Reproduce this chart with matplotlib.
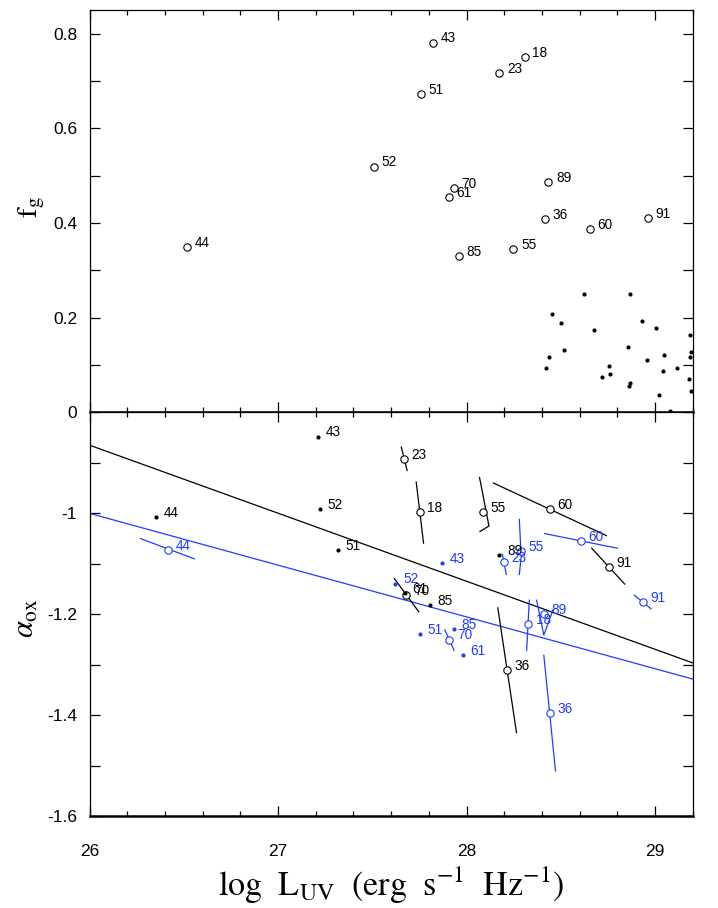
import matplotlib.pyplot as plt
from matplotlib.ticker import MultipleLocator

plt.rcParams['font.family'] = ['Liberation Sans', 'DejaVu Sans']
plt.rcParams['mathtext.fontset'] = 'stix'
plt.rcParams['axes.unicode_minus'] = False

BLUE = '#1f3cff'

# --- top panel: f_g vs log L_UV ---
top_ids = ['43', '18', '23', '51', '52', '70', '61', '89', '36', '60', '91', '44', '85', '55']
top_logl = [27.824, 28.309, 28.174, 27.757, 27.510, 27.931, 27.906, 28.434, 28.418,
            28.655, 28.963, 26.519, 27.958, 28.249]
top_fg = [0.781, 0.750, 0.717, 0.672, 0.519, 0.473, 0.455, 0.486, 0.408,
          0.387, 0.410, 0.349, 0.330, 0.345]

# comparison sample (small filled dots)
cmp_logl = [28.624, 28.867, 28.451, 28.500, 28.933, 28.675, 29.007, 29.183, 28.517,
            28.438, 28.854, 28.958, 29.049, 29.192, 29.186, 28.424, 28.754, 28.761,
            28.717, 29.042, 29.118, 29.180, 28.864, 28.869, 29.191, 29.021, 29.080]
cmp_fg = [0.249, 0.249, 0.207, 0.189, 0.193, 0.174, 0.178, 0.163, 0.131,
          0.117, 0.139, 0.110, 0.122, 0.127, 0.116, 0.093, 0.098, 0.081,
          0.075, 0.088, 0.093, 0.070, 0.055, 0.061, 0.046, 0.036, 0.002]

# --- bottom panel: alpha_ox vs log L_UV ---
blk_dot_ids = ['43', '52', '44', '51', '89', '61', '85']
blk_dot_x = [27.213, 27.223, 26.352, 27.316, 28.174, 27.671, 27.805]
blk_dot_y = [-0.848, -0.991, -1.008, -1.072, -1.083, -1.157, -1.182]

blk_circ_ids = ['23', '18', '55', '60', '91', '70', '36']
blk_circ_x = [27.669, 27.751, 28.088, 28.443, 28.756, 27.681, 28.216]
blk_circ_y = [-0.892, -0.998, -0.997, -0.992, -1.106, -1.162, -1.310]
blk_err = [
    [(27.654, -0.869), (27.685, -0.915)],
    [(27.733, -0.938), (27.772, -1.059)],
    [(28.069, -0.929), (28.119, -1.025), (28.071, -1.036)],
    [(28.143, -0.940), (28.742, -1.044)],
    [(28.664, -1.069), (28.839, -1.140)],
    [(27.617, -1.129), (27.747, -1.195)],
    [(28.166, -1.187), (28.265, -1.434)],
]

blu_dot_ids = ['43', '52', '51', '85', '61']
blu_dot_x = [27.871, 27.623, 27.751, 27.931, 27.980]
blu_dot_y = [-1.099, -1.139, -1.239, -1.229, -1.280]

blu_circ_ids = ['44', '60', '55', '23', '91', '18', '89', '70', '36']
blu_circ_x = [26.416, 28.606, 28.288, 28.199, 28.936, 28.328, 28.411, 27.908, 28.443]
blu_circ_y = [-1.073, -1.055, -1.075, -1.096, -1.176, -1.219, -1.199, -1.250, -1.396]
blu_err = [
    [(26.271, -1.050), (26.556, -1.090)],
    [(28.414, -1.040), (28.800, -1.069)],
    [(28.280, -1.012), (28.290, -1.085), (28.280, -1.121)],
    [(28.190, -1.081), (28.211, -1.121)],
    [(28.890, -1.162), (28.979, -1.189)],
    [(28.333, -1.172), (28.319, -1.271)],
    [(28.372, -1.172), (28.410, -1.241), (28.460, -1.190)],
    [(27.885, -1.231), (27.934, -1.271)],
    [(28.410, -1.281), (28.472, -1.510)],
]

fit_x = [26.0, 29.2]
blk_fit_y = [-0.865, -1.296]
blu_fit_y = [-1.000, -1.328]

xticks = [26, 27, 28, 29]
top_yticks = [0, 0.2, 0.4, 0.6, 0.8]
top_ylabels = ['0', '0.2', '0.4', '0.6', '0.8']
bot_yticks = [-1.6, -1.4, -1.2, -1.0, -0.8]
bot_ylabels = ['-1.6', '-1.4', '-1.2', '-1', '']


def style_axes(ax):
    ax.set_xlim(26, 29.2)
    ax.xaxis.set_major_locator(plt.FixedLocator(xticks))
    ax.xaxis.set_minor_locator(MultipleLocator(0.2))
    ax.yaxis.set_minor_locator(MultipleLocator(0.1))
    ax.tick_params(which='both', direction='in', top=True, right=True, width=0.9)
    ax.tick_params(axis='x', which='major', length=7.5)
    ax.tick_params(axis='x', which='minor', length=3.8)
    ax.tick_params(axis='y', which='both', length=7)
    ax.tick_params(axis='y', labelsize=12.5, pad=9)
    for s in ['left', 'right', 'top']:
        ax.spines[s].set_linewidth(0.9)
    ax.spines['bottom'].set_linewidth(1.8)


def label(ax, txt, x, y, color):
    ax.annotate(txt, (x, y), xytext=(5.5, 3), textcoords='offset points',
                ha='left', va='center', fontsize=9.8, color=color)


fig = plt.figure(figsize=(7.18, 9.08), dpi=100)
ax1 = fig.add_axes([0.1247, 0.5459, 0.8401, 0.4431])
ax2 = fig.add_axes([0.1247, 0.1008, 0.8401, 0.4451])

# top
style_axes(ax1)
ax1.set_ylim(0, 0.85)
ax1.set_yticks(top_yticks)
ax1.set_yticklabels(top_ylabels)
ax1.tick_params(axis='x', labelbottom=False)
ax1.plot(top_logl, top_fg, 'o', ms=5.3, mfc='none', mec='k', mew=0.8)
for t, x, y in zip(top_ids, top_logl, top_fg):
    label(ax1, t, x, y, 'k')
ax1.plot(cmp_logl, cmp_fg, 'o', ms=3, color='k', mew=0, clip_on=False)
ax1.text(-0.096, 0.51, r'$\mathrm{f}_{\mathrm{g}}$', transform=ax1.transAxes,
         rotation=90, ha='center', va='center', fontsize=21)

# bottom
style_axes(ax2)
ax2.set_ylim(-1.6, -0.8)
ax2.set_yticks(bot_yticks)
ax2.set_yticklabels(bot_ylabels)
ax2.tick_params(axis='x', labelsize=12.5, pad=20)

ax2.plot(fit_x, blk_fit_y, color='k', lw=0.9)
ax2.plot(fit_x, blu_fit_y, color=BLUE, lw=0.9)

for seg in blk_err:
    ax2.plot([p[0] for p in seg], [p[1] for p in seg], color='k', lw=0.9)
for seg in blu_err:
    ax2.plot([p[0] for p in seg], [p[1] for p in seg], color=BLUE, lw=0.9)

ax2.plot(blk_circ_x, blk_circ_y, 'o', ms=5.3, mfc='white', mec='k', mew=0.8)
ax2.plot(blu_circ_x, blu_circ_y, 'o', ms=5.3, mfc='white', mec=BLUE, mew=0.8)
ax2.plot(blk_dot_x, blk_dot_y, 'o', ms=3, color='k', mew=0)
ax2.plot(blu_dot_x, blu_dot_y, 'o', ms=3, color=BLUE, mew=0)

for t, x, y in zip(blk_dot_ids, blk_dot_x, blk_dot_y):
    label(ax2, t, x, y, 'k')
for t, x, y in zip(blk_circ_ids, blk_circ_x, blk_circ_y):
    label(ax2, t, x, y, 'k')
for t, x, y in zip(blu_dot_ids, blu_dot_x, blu_dot_y):
    label(ax2, t, x, y, BLUE)
for t, x, y in zip(blu_circ_ids, blu_circ_x, blu_circ_y):
    label(ax2, t, x, y, BLUE)

ax2.text(-0.105, 0.49, r'$\alpha_{\mathrm{ox}}$', transform=ax2.transAxes,
         rotation=90, ha='center', va='center', fontsize=22)
ax2.set_xlabel(r'$\mathrm{log\ \ L_{UV}\ \ (erg\ \ s^{-1}\ \ Hz^{-1})}$',
               fontsize=24.5, labelpad=4)

fig.savefig('out.png', dpi=100)
